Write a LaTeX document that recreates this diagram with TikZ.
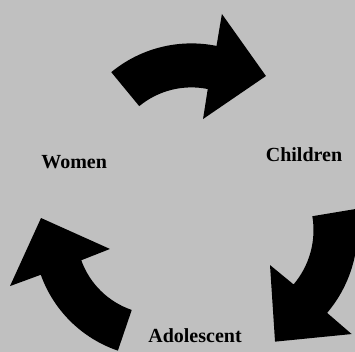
\documentclass[tikz,border=0pt]{standalone}
\usepackage{fontspec}
\setmainfont{Liberation Serif}
\definecolor{backgray}{RGB}{192,192,192}
\begin{document}
\begin{tikzpicture}[x=1pt, y=1pt,
    stage/.style={font=\fontsize{20}{24}\selectfont\bfseries, inner sep=0pt, anchor=base},
    turn/.style={fill=black}]
  \fill[backgray] (0,0) rectangle (355,352);
  \clip (0,0) rectangle (355,352);
  \node[stage] (women) at (74.2,183) {Women};
  \node[stage] (children) at (304,190.3) {Children};
  \node[stage] (adolescent) at (195,9.3) {Adolescent};
  % women -> children
  \begin{scope}[shift={(191.4,182.6)}]
    \fill[turn] (129.5:126) arc[start angle=129.5, end angle=78.5, radius=126]
      -- (78.9:158.4) -- (51.4:119.5) -- (77:51.7) -- (78.5:82)
      arc[start angle=78.5, end angle=129.5, radius=82] -- cycle;
  \end{scope}
  % children -> adolescent
  \begin{scope}[shift={(229.5,121.9)}]
    \fill[turn] (9.5:128) arc[start angle=9.5, end angle=-40.3, radius=128]
      -- (-40.4:160.4) -- (-67.8:120.5) -- (-40.8:53.5) -- (-40.3:84)
      arc[start angle=-40.3, end angle=9.5, radius=84] -- cycle;
  \end{scope}
  % adolescent -> women
  \begin{scope}[shift={(158,119.2)}]
    \fill[turn] (251.2:124.5) arc[start angle=251.2, end angle=199.7, radius=124.5]
      -- (199.8:157.3) -- (172.8:117.9) -- (198.6:50.7) -- (199.7:81.5)
      arc[start angle=199.7, end angle=251.2, radius=81.5] -- cycle;
  \end{scope}
\end{tikzpicture}
\end{document}
